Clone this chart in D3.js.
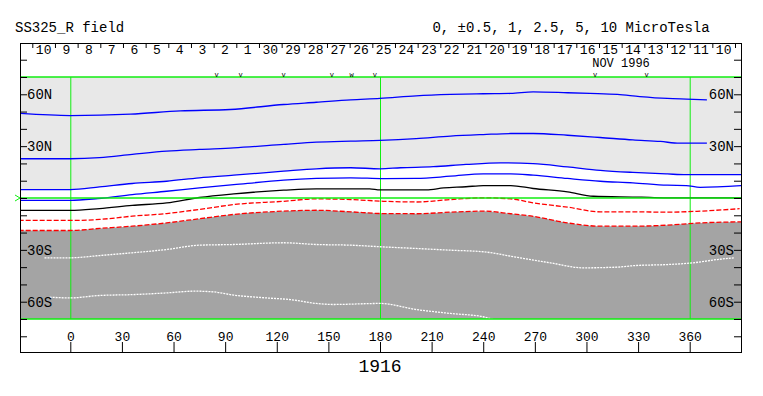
<!DOCTYPE html>
<html>
<head>
<meta charset="utf-8">
<script src="https://cdn.jsdelivr.net/npm/d3@7"></script>
<style>
  body { margin: 0; background: #fff; }
  svg text { font-family: "Liberation Mono", "Courier New", monospace; fill: #000; }
</style>
</head>
<body>
<svg id="chart" width="763" height="396"></svg>
<script>
// day boundaries along the track, Dec 10 back to Nov 10 1996
const dayLabels = ['10', '9', '8', '7', '6', '5', '4', '3', '2', '1', '30', '29', '28', '27', '26', '25',
  '24', '23', '22', '21', '20', '19', '18', '17', '16', '15', '14', '13', '12', '11', '10'];
const markerLons = [85, 99, 124, 152, 163.5, 177, 305, 335];
const markerGlyphs = ['v', 'v', 'v', 'v', 'w', 'v', 'v', 'v'];

const lonTicks = [0, 30, 60, 90, 120, 150, 180, 210, 240, 270, 300, 330, 360];
const latTicks = [-80, -70, -60, -50, -40, -30, -20, -10, 0, 10, 20, 30, 40, 50, 60, 70, 80];
const latLabelValues = [60, 30, -30, -60];
const latLabelText = ['60N', '30N', '30S', '60S'];
const gridLons = [0, 180, 360];
const gridLats = [70, 0, -70];

// contours [lon, lat]
const blue1 = [[-29, 48.9], [0, 47.7], [35, 48.5], [64, 50.4], [93, 51.2], [124, 54.1], [143, 55.4], [163, 56.8],
  [180, 57.6], [201, 59.1], [221, 59.9], [240, 60.3], [256, 60.5], [269, 61.4], [289, 60.9], [302, 60.5],
  [318, 59.9], [331, 58.7], [347, 57.6], [358, 57.2], [370, 56.8]];
const blue2 = [[-29, 22.7], [0, 22.7], [17, 23.3], [36, 25.2], [56, 27.1], [75, 28.1], [95, 29.0], [124, 31.0],
  [143, 32.3], [163, 32.9], [180, 33.3], [201, 34.3], [221, 35.8], [240, 36.7], [256, 37.3], [269, 37.3],
  [289, 36.3], [308, 35.0], [327, 33.6], [343, 32.7], [354, 31.7], [370, 31.7]];
const blue3 = [[-30, 4.9], [0, 4.9], [17, 6.4], [36, 8.4], [56, 9.7], [75, 11.7], [95, 13.2], [124, 15.5],
  [143, 16.9], [163, 17.5], [180, 16.9], [192, 17.5], [211, 18.1], [230, 19.4], [250, 20.3], [269, 19.9],
  [289, 18.0], [308, 16.0], [327, 14.8], [347, 13.9], [358, 13.5], [391, 13.5]];
const blue4 = [[-30, -1.4], [0, -1.4], [16, -0.3], [36, 2.0], [56, 3.9], [75, 5.8], [95, 7.7], [124, 10.3],
  [143, 11.3], [163, 11.7], [182, 11.2], [201, 11.3], [221, 12.6], [240, 14.0], [256, 14.0], [269, 13.2],
  [289, 11.3], [308, 9.7], [327, 8.8], [347, 7.4], [358, 7.2], [366, 6.2], [391, 7.2]];
const black0 = [[-30, -7.2], [0, -7.2], [17, -6.1], [36, -4.3], [56, -2.8], [75, 0.3], [95, 2.4], [124, 4.5],
  [143, 5.3], [174, 5.3], [180, 4.7], [207, 4.7], [217, 5.8], [230, 6.5], [240, 7.2], [256, 7.2], [269, 5.5],
  [289, 3.6], [304, 1.0], [332, 0.5], [345, 0.1], [391, 0.1]];
const red1 = [[-30, -13.0], [0, -13.0], [17, -12.4], [36, -10.5], [56, -9.0], [75, -6.6], [95, -3.8], [124, -1.9],
  [143, -0.5], [163, -0.9], [182, -1.9], [201, -2.3], [221, -0.9], [240, 0.1], [256, -0.5], [269, -2.8],
  [289, -5.3], [308, -8.0], [327, -8.0], [347, -8.2], [366, -7.6], [389, -6.2]];
const red2 = [[-30, -18.8], [0, -18.8], [17, -17.6], [36, -16.3], [56, -14.4], [75, -12.0], [95, -9.5], [124, -7.6],
  [143, -7.1], [163, -8.0], [182, -9.0], [201, -9.1], [221, -8.2], [240, -7.6], [256, -9.1], [269, -10.6],
  [289, -14.4], [308, -16.3], [327, -16.3], [347, -15.7], [366, -14.4], [391, -13.8]];
const white1 = [[-15, -34.6], [0, -34.6], [17, -33.3], [36, -31.7], [56, -29.8], [75, -27.3], [95, -26.9],
  [124, -25.9], [143, -26.9], [163, -27.3], [180, -28.2], [201, -29.2], [221, -30.2], [240, -31.1], [259, -34.2],
  [279, -37.5], [298, -40.4], [318, -40.0], [328, -39.1], [347, -38.5], [362, -37.5], [376, -35.6], [386, -34.6]];
const white2 = [[-12, -57.4], [0, -57.8], [17, -56.4], [36, -55.9], [56, -54.9], [72, -53.9], [83, -54.3],
  [95, -56.2], [114, -57.8], [128, -58.8], [143, -61.0], [153, -61.6], [180, -61.0], [201, -64.5], [221, -66.8],
  [240, -68.7], [248, -71]];

const frame = { left: 20, right: 741, top: 43, bottom: 352 };
const svg = d3.select('#chart');

const x = d3.scaleLinear().domain([0, 360]).range([70.3, 689.7]);
const y = d3.scaleLinear().domain([-70, 70]).range([319, 77]);
const dayScale = d3.scaleBand().domain(d3.range(dayLabels.length)).range([32.3, 735]);

svg.append('defs').append('clipPath').attr('id', 'plotClip')
  .append('rect')
  .attr('x', frame.left).attr('y', y(70))
  .attr('width', frame.right - frame.left).attr('height', y(-70) - y(70));

const plot = svg.append('g').attr('clip-path', 'url(#plotClip)');

// shaded regions
plot.append('path')
  .datum(blue3)
  .attr('fill', '#e8e8e8')
  .attr('d', d3.area().curve(d3.curveMonotoneX)
    .x(d => x(d[0])).y0(y(70)).y1(d => y(d[1])));

plot.append('path')
  .datum(red2)
  .attr('fill', '#a4a4a4')
  .attr('d', d3.area().curve(d3.curveMonotoneX)
    .x(d => x(d[0])).y0(y(-70)).y1(d => y(d[1])));

const line = d3.line().curve(d3.curveMonotoneX).x(d => x(d[0])).y(d => y(d[1]));

const contours = [
  { data: blue1, color: '#0000ff', dash: null },
  { data: blue2, color: '#0000ff', dash: null },
  { data: blue3, color: '#0000ff', dash: null },
  { data: blue4, color: '#0000ff', dash: null },
  { data: black0, color: '#000000', dash: null },
  { data: red1, color: '#ff0000', dash: '5,2' },
  { data: red2, color: '#ff0000', dash: '5,2' },
  { data: white1, color: '#ffffff', dash: '2,1' },
  { data: white2, color: '#ffffff', dash: '2,1' }
];

// green grid
const green = '#11ee11';
plot.selectAll('.meridian')
  .data(gridLons)
  .enter().append('line')
  .attr('x1', d => x(d) + 0.5).attr('x2', d => x(d) + 0.5)
  .attr('y1', y(70)).attr('y2', y(-70))
  .attr('stroke', green).attr('stroke-width', 1);

plot.selectAll('.contour')
  .data(contours)
  .enter().append('path')
  .attr('fill', 'none')
  .attr('stroke', d => d.color)
  .attr('stroke-width', 1.3)
  .attr('stroke-dasharray', d => d.dash)
  .attr('d', d => line(d.data));

svg.selectAll('.parallel')
  .data(gridLats)
  .enter().append('line')
  .attr('x1', frame.left).attr('x2', frame.right)
  .attr('y1', d => y(d)).attr('y2', d => y(d))
  .attr('stroke', green).attr('stroke-width', 1.4);

// equator arrow on the left
svg.append('path')
  .attr('d', `M${frame.left - 5},${y(0) - 3}L${frame.left},${y(0)}L${frame.left - 5},${y(0) + 3}`)
  .attr('fill', 'none').attr('stroke', green).attr('stroke-width', 1);

// latitude ticks on both sides
svg.append('g')
  .attr('transform', `translate(${frame.left},0)`)
  .call(d3.axisRight(y).tickValues(latTicks).tickSize(7).tickFormat(''))
  .call(g => g.select('.domain').remove());
svg.append('g')
  .attr('transform', `translate(${frame.right},0)`)
  .call(d3.axisLeft(y).tickValues(latTicks).tickSize(7).tickFormat(''))
  .call(g => g.select('.domain').remove());

svg.selectAll('.latL')
  .data(latLabelValues)
  .enter().append('text')
  .attr('x', frame.left + 7)
  .attr('y', d => y(d))
  .attr('dy', '0.35em')
  .style('font-size', '14px')
  .text((d, i) => latLabelText[i]);
svg.selectAll('.latR')
  .data(latLabelValues)
  .enter().append('text')
  .attr('x', frame.right - 7)
  .attr('y', d => y(d))
  .attr('dy', '0.35em')
  .attr('text-anchor', 'end')
  .style('font-size', '14px')
  .text((d, i) => latLabelText[i]);

// longitude axis along the bottom
const xAxis = svg.append('g')
  .attr('transform', `translate(0,${frame.bottom})`)
  .call(d3.axisTop(x).tickValues(lonTicks).tickSize(10).tickPadding(1).tickFormat(d3.format('d')))
  .call(g => g.select('.domain').remove());
xAxis.selectAll('text').style('font-size', '13px').style('font-family', '"Liberation Mono", monospace');
xAxis.selectAll('line').attr('stroke', '#000');

// day axis along the top
svg.selectAll('.dayTick')
  .data(d3.range(dayLabels.length + 1))
  .enter().append('line')
  .attr('x1', d => (d < dayLabels.length ? dayScale(d) : dayScale.range()[1]) + 0.5)
  .attr('x2', d => (d < dayLabels.length ? dayScale(d) : dayScale.range()[1]) + 0.5)
  .attr('y1', frame.top).attr('y2', frame.top + 5)
  .attr('stroke', '#000');
svg.selectAll('.dayLabel')
  .data(dayLabels)
  .enter().append('text')
  .attr('x', (d, i) => dayScale(i) + dayScale.bandwidth() / 2)
  .attr('y', frame.top + 10.5)
  .attr('text-anchor', 'middle')
  .style('font-size', '13px')
  .text(d => d);

svg.append('text')
  .attr('x', 621).attr('y', 67)
  .attr('text-anchor', 'middle')
  .style('font-size', '12px')
  .text('NOV 1996');

svg.selectAll('.marker')
  .data(markerLons)
  .enter().append('text')
  .attr('x', d => x(d))
  .attr('y', 77)
  .attr('text-anchor', 'middle')
  .style('font-size', '7px')
  .text((d, i) => markerGlyphs[i]);

// frame
svg.append('rect')
  .attr('x', frame.left + 0.5).attr('y', frame.top + 0.5)
  .attr('width', frame.right - frame.left).attr('height', frame.bottom - frame.top)
  .attr('fill', 'none').attr('stroke', '#000');

// titles
svg.append('text')
  .attr('x', 15).attr('y', 32)
  .style('font-size', '14px')
  .text('SS325_R field');
svg.append('text')
  .attr('x', 571).attr('y', 32)
  .attr('text-anchor', 'middle')
  .style('font-size', '14px')
  .text('0, ±0.5, 1, 2.5, 5, 10 MicroTesla');
svg.append('text')
  .attr('x', 380).attr('y', 372)
  .attr('text-anchor', 'middle')
  .style('font-size', '18px')
  .text('1916');
</script>
</body>
</html>
